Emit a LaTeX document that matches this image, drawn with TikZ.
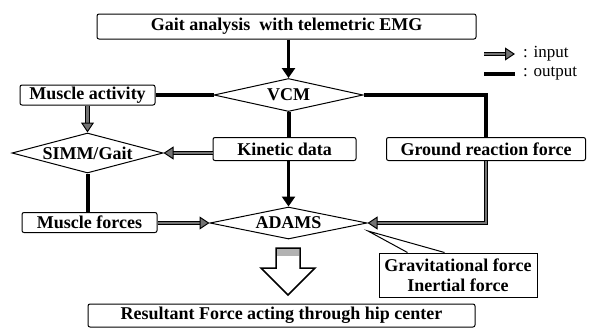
\documentclass[tikz,border=0pt]{standalone}
\usepackage{fontspec}
\setmainfont{Liberation Serif}
\usetikzlibrary{positioning,arrows.meta,calc,shapes.geometric}

\begin{document}
\begin{tikzpicture}[
        x=1pt, y=-1pt,
        every node/.style={font=\fontsize{18}{20}\selectfont\bfseries},
        box/.style={draw, rounded corners=2pt, line width=1pt, inner sep=0pt},
        decision/.style={draw, diamond, line width=1pt, inner sep=0pt},
        note/.style={draw, line width=1pt, inner sep=0pt, align=center},
        legendtext/.style={font=\fontsize{17}{19}\selectfont, anchor=west, inner sep=0pt},
        arrow/.style={line width=3.5pt, -{Triangle[length=10pt, width=13pt]}},
        inarrow/.style={draw=black!55, line width=2.4pt,
            preaction={draw=black, line width=4.4pt, arrows=-, shorten >=8pt},
            -{Triangle[length=10pt, width=13pt, color=black, fill=black!55, line width=1pt]}},
        outputline/.style={line width=4pt}
    ]
        \useasboundingbox (0,0) rectangle (594,330);

        % Gait analysis box
        \node[box, minimum width=379pt, minimum height=25pt] (gait) at (286.5,26.5) {Gait analysis\ \ with telemetric EMG};

        % Legend
        \coordinate (inl) at (484,54);
        \coordinate (inr) at (515,54);
        \coordinate (outl) at (484,74);
        \coordinate (outr) at (515,74);
        \node[legendtext, right=8pt of inr] (intext) {: input};
        \node[legendtext, right=8pt of outr] (outtext) {: output};
        \draw[inarrow] (inl) -- (inr);
        \draw[outputline] (outl) -- (outr);

        % First row
        \node[decision, aspect=4.5, minimum width=149pt, minimum height=33pt] (vcm) at (288.5,95) {VCM};
        \node[box, minimum width=135pt, minimum height=20pt] (act) at (87.5,95) {Muscle activity};

        % Second row
        \node[decision, aspect=3.8, minimum width=151pt, minimum height=40pt] (simm) at (87.5,153) {SIMM/Gait};
        \node[box, minimum width=143pt, minimum height=23pt] (kin) at (284.5,149) {Kinetic data};
        \node[box, minimum width=199pt, minimum height=23pt] (grf) at (486,149) {Ground reaction force};

        % Third row
        \node[box, minimum width=135pt, minimum height=20pt] (forces) at (89.5,222.5) {Muscle forces};
        \node[decision, aspect=4.9, minimum width=157pt, minimum height=32pt] (adams) at (288.5,223) {ADAMS};
        \node[note, minimum width=158pt, minimum height=44pt] (grav) at (458,275) {Gravitational force\\Inertial force};

        % Result box
        \node[box, minimum width=387pt, minimum height=23pt] (res) at (281.5,315.5) {Resultant Force acting through hip center};

        % Outputs
        \draw[outputline] (act) -- (vcm);
        \draw[outputline] (vcm.east) -| (grf.north);
        \draw[outputline] (vcm.south) -- (vcm.south |- kin.north);
        \draw[outputline] (simm.south) -- (simm.south |- forces.north);

        % Inputs
        \draw[arrow] (gait.south -| vcm) -- (vcm.north);
        \draw[arrow] (kin.south -| adams) -- (adams.north);
        \draw[inarrow] (act) -- (simm);
        \draw[inarrow] (kin.west |- simm.east) -- (simm.east);
        \draw[inarrow] (forces.east |- adams.west) -- (adams.west);
        \draw[inarrow] (grf.south) |- (adams.east);

        % Callout to ADAMS
        \coordinate (tip) at (368,231);
        \draw[line width=1pt] ($(grav.north west)+(29,0)$) -- (tip) -- ($(grav.north west)+(66,0)$);

        % Hollow arrow to result
        \draw[line width=1.5pt, fill=white] (276,248) -- (300,248) -- (300,268) -- (315,268)
            -- (288,295) -- (261,268) -- (276,268) -- cycle;
        \fill[gray!60] (277,249) rectangle (299,256);

\end{tikzpicture}
\end{document}
